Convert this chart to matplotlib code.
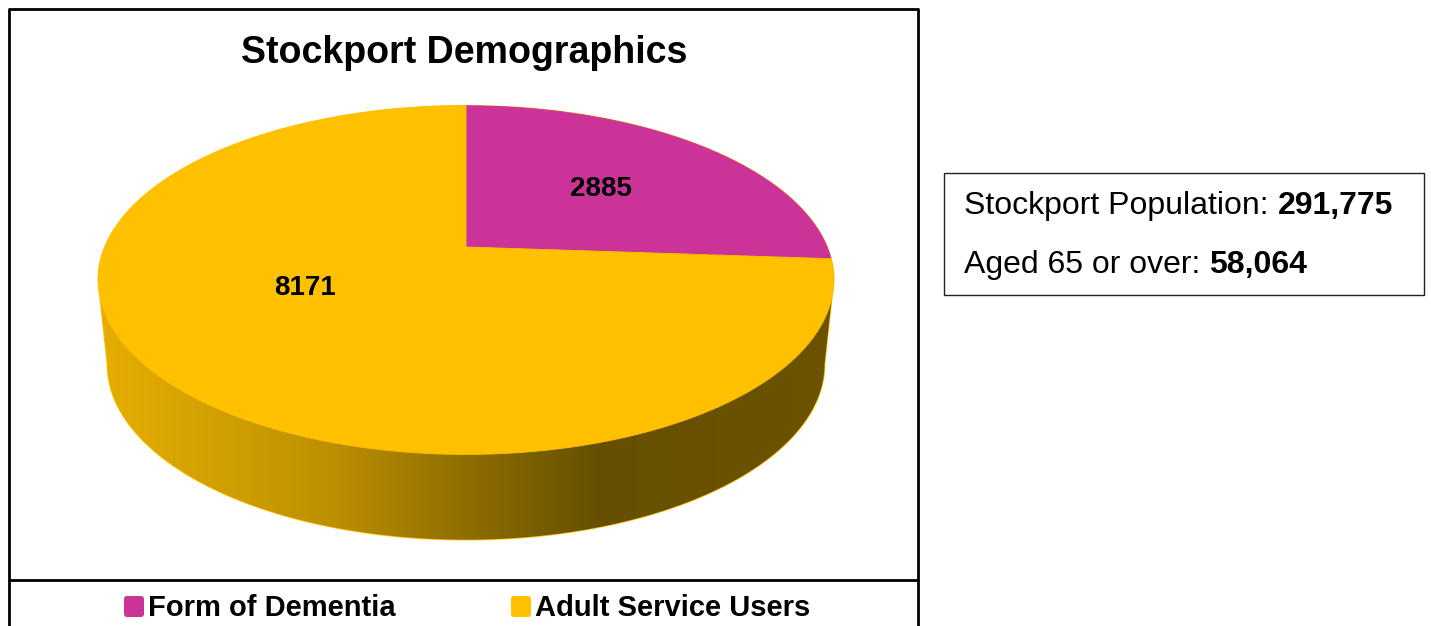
import numpy as np
import matplotlib
matplotlib.use("Agg")
import matplotlib.pyplot as plt
from matplotlib.colors import LinearSegmentedColormap
from matplotlib.patches import FancyBboxPatch, Polygon, Rectangle

plt.rcParams['font.family'] = ['Liberation Sans', 'DejaVu Sans']

categories = ["Form of Dementia", "Adult Service Users"]
values = [2885, 8171]
colors = ["#CC3399", "#FFC000"]
title = "Stockport Demographics"
info_labels = ["Stockport Population: ", "Aged 65 or over: "]
info_values = ["291,775", "58,064"]

# pie geometry in pixels
CX, APEX_Y = 466, 247
K = 0.19  # perspective
A, B = 168, 361
DROP = 84
LOW_SX, LOW_SY = 0.975, 1.006  # lower rim is a bit narrower


# Project an angle on the pie (clockwise from 12 o'clock) to the picture
def project(theta, sx=1.0, sy=1.0, apex_y=APEX_Y):
    u, v = np.sin(theta), np.cos(theta)
    d = 1 + K * v
    return CX + sx * B * u / d, apex_y - sy * A * v / d


# Polygon for the slice between two angles
def wedge_points(start, end):
    t = np.linspace(start, end, 300)
    x, y = project(t)
    return np.column_stack([np.r_[CX, x], np.r_[APEX_Y, y]])


fig = plt.figure(figsize=(14.31, 6.26), dpi=100)
ax = fig.add_axes([0, 0, 1, 1])
ax.set_xlim(0, 1431)
ax.set_ylim(626, 0)
ax.axis("off")

# chart frame, runs off the bottom of the picture
ax.plot([9, 9], [9, 630], color="black", lw=2.0, solid_capstyle="butt")
ax.plot([918, 918], [9, 630], color="black", lw=2.0, solid_capstyle="butt")
ax.plot([8, 919], [9, 9], color="black", lw=2.0, solid_capstyle="butt")
ax.plot([9, 918], [580, 580], color="black", lw=2.0, solid_capstyle="butt")

ax.text(464, 63, title, fontsize=27, fontweight="bold", ha="center", va="baseline")

# side of the disc: front of lower rim, then back over the top rim
t_left = 2 * np.pi - np.arccos(-K)
t_right = np.arccos(-K)
low = np.linspace(t_right, t_left, 300)
top = np.linspace(t_left, t_right + 2 * np.pi, 300)
xl, yl = project(low, LOW_SX, LOW_SY, APEX_Y + DROP)
xt, yt = project(top)
side = Polygon(np.column_stack([np.r_[xl, xt], np.r_[yl, yt]]), closed=True,
               facecolor="none", edgecolor="#FFC000", lw=1.2, zorder=2)
ax.add_patch(side)

side_cmap = LinearSegmentedColormap.from_list("side", [
    (0.00, "#E6AE00"), (0.20, "#CC9C00"), (0.32, "#BC8F00"), (0.50, "#8F6E00"),
    (0.68, "#665000"), (1.00, "#6C5200"),
])
grad = ax.imshow(np.linspace(0, 1, 512)[None, :], cmap=side_cmap, aspect="auto",
                 extent=[98, 834, 540, 250], zorder=2)
grad.set_clip_path(side)
ax.set_xlim(0, 1431)
ax.set_ylim(626, 0)

# top of the disc, slices from the values
edges = 2 * np.pi * np.r_[0, np.cumsum(values)] / np.sum(values)
for i in range(len(values)):
    ax.add_patch(Polygon(wedge_points(edges[i], edges[i + 1]), closed=True,
                         facecolor=colors[i], edgecolor=colors[i], lw=0.6, zorder=3))

ax.text(601, 186, str(values[0]), fontsize=20, fontweight="bold", ha="center", va="center_baseline", zorder=4)
ax.text(305, 285, str(values[1]), fontsize=20, fontweight="bold", ha="center", va="center_baseline", zorder=4)

# legend
for name, col, x_box, x_txt in zip(categories, colors, [124, 511], [148, 535]):
    ax.add_patch(FancyBboxPatch((x_box + 2, 598), 16, 17, boxstyle="round,pad=2,rounding_size=3",
                                facecolor=col, edgecolor="none"))
    ax.text(x_txt, 616, name, fontsize=21, fontweight="bold", ha="left", va="baseline")

# info box
ax.add_patch(Rectangle((944, 173), 480, 122, facecolor="white", edgecolor="#222222", lw=1.0))
renderer = fig.canvas.get_renderer()
for label, number, base in zip(info_labels, info_values, [214, 273]):
    t = ax.text(964, base, label.rstrip(), fontsize=23, ha="left", va="baseline")
    w = t.get_window_extent(renderer).width
    ax.text(964 + w + 9, base, number, fontsize=23, fontweight="bold", ha="left", va="baseline")

fig.savefig("out.png", dpi=100)
